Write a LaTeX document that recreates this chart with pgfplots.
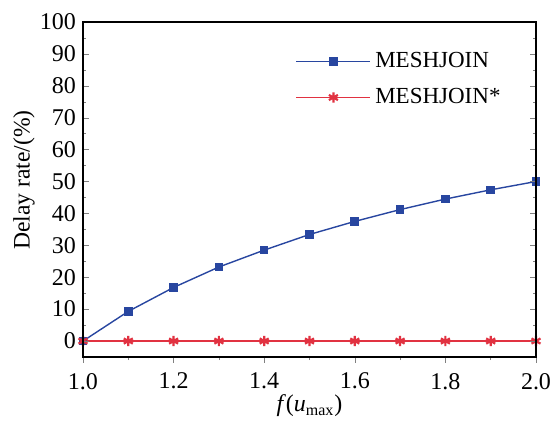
\documentclass[border=0pt]{standalone}
\usepackage{pgfplots}
\pgfplotsset{compat=1.18}
\usepackage{fontspec}
\setmainfont{Liberation Serif}

\definecolor{meshblue}{RGB}{40,70,160}
\definecolor{meshred}{RGB}{225,50,65}

\begin{document}
\begin{tikzpicture}
\pgfplotsset{
  common/.style={
    width=226.5pt, height=167.5pt,
    scale only axis,
    xmin=1.0, xmax=2.0,
    ymin=-5, ymax=100,
    tick label style={font=\fontsize{12}{14}\selectfont},
    major tick length=3pt,
    minor tick length=1.6pt,
    axis line style={line width=0.6pt},
  }
}
% data, x ticks (outside, bottom only)
\begin{axis}[
    common,
    tick align=outside,
    xtick={1.0,1.2,...,2.0},
    minor x tick num=1,
    xtick pos=bottom,
    xticklabel={\pgfmathprintnumber[assume math mode=true,fixed,fixed zerofill,precision=1]{\tick}},
    x tick label style={yshift=-1.5pt},
    ytick=\empty,
    xlabel={\textit{f}(\textit{u}\textsubscript{max})},
    xlabel style={at={(axis description cs:0.5,-0.145)}, anchor=center,
      font=\fontsize{12}{14}\selectfont},
    legend style={draw=none, fill=none, at={(axis description cs:0.455,0.935)},
      anchor=north west, font=\fontsize{11.5}{13}\selectfont, row sep=5pt,
      cells={anchor=west}},
    legend image code/.code={
      \draw[mark repeat=2,mark phase=2,#1]
        plot coordinates {(0cm,0cm) (0.65cm,0cm) (1.3cm,0cm)};
    },
]
\addplot[color=meshblue, line width=0.7pt, mark=square*, mark size=1.8pt,
  mark options={fill=meshblue}]
  coordinates {(1.0,0) (1.1,9.3) (1.2,16.8) (1.3,23.2) (1.4,28.5) (1.5,33.4)
               (1.6,37.5) (1.7,41.2) (1.8,44.5) (1.9,47.4) (2.0,50.0)};
\addlegendentry{MESHJOIN}
\addplot[color=meshred, line width=0.9pt, mark=asterisk, mark size=2.6pt,
  mark options={line width=1.1pt}]
  coordinates {(1.0,0) (1.1,0) (1.2,0) (1.3,0) (1.4,0) (1.5,0)
               (1.6,0) (1.7,0) (1.8,0) (1.9,0) (2.0,0)};
\addlegendentry{MESHJOIN*}
\end{axis}
% y ticks (inside, left and right)
\begin{axis}[
    common,
    tick align=inside,
    xtick=\empty,
    ytick={0,10,...,100},
    minor y tick num=1,
    ytick pos=both,
    yticklabel pos=left,
    yticklabel={\pgfmathprintnumber[assume math mode=true]{\tick}},
    ylabel={Delay rate/(\%)},
    ylabel style={at={(axis description cs:-0.13,0.528)}, anchor=center,
      font=\fontsize{11.8}{13}\selectfont},
]
\end{axis}
% page size as in the reference
\path (current axis.south west) ++(-41.5pt,-30pt);
\path (current axis.north east) ++(11pt,11pt);
\end{tikzpicture}
\end{document}
